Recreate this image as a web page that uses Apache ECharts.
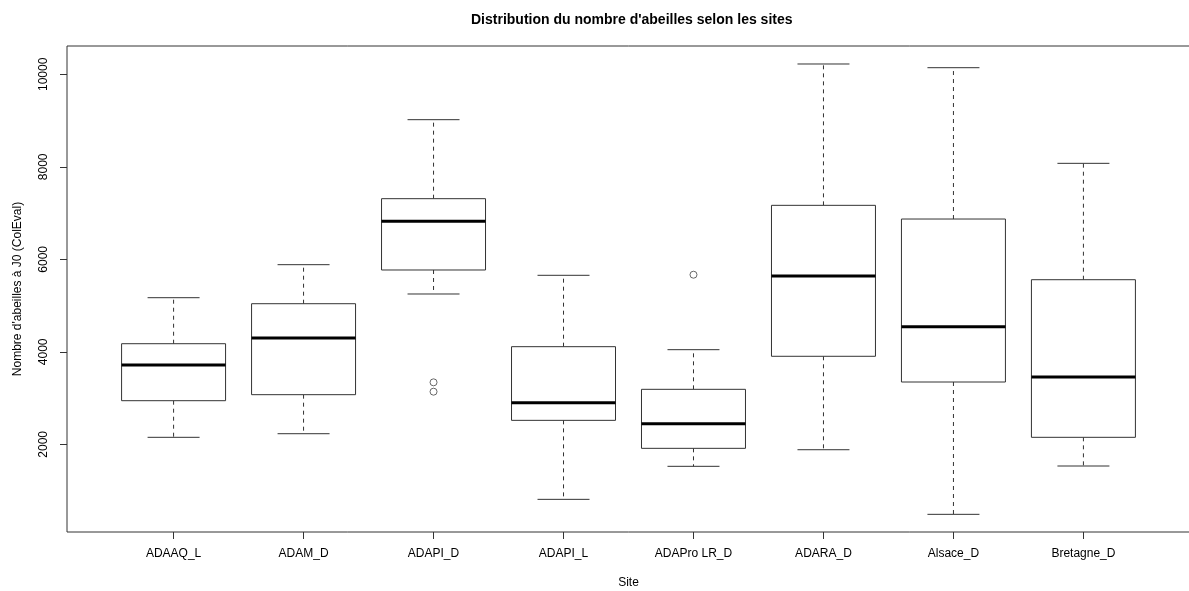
<!DOCTYPE html>
<html>
<head>
<meta charset="utf-8">
<script src="https://cdn.jsdelivr.net/npm/echarts@6/dist/echarts.min.js"></script>
<style>
html,body{margin:0;padding:0;background:#fff;}
#chart{width:1189px;height:591px;}
</style>
</head>
<body>
<div id="chart"></div>
<script>
const categories = ['ADAAQ_L','ADAM_D','ADAPI_D','ADAPI_L','ADAPro LR_D','ADARA_D','Alsace_D','Bretagne_D'];
const lowerWhisker = [2151, 2229, 5250, 810, 1524, 1883, 486, 1531];
const q1 = [2943, 3073, 5769, 2518, 1913, 3903, 3347, 2151];
const median = [3715, 4298, 6821, 2900, 2446, 5639, 4543, 3455];
const q3 = [4175, 5040, 7311, 4111, 3189, 7167, 6871, 5559];
const upperWhisker = [5170, 5884, 9019, 5654, 4046, 10223, 10143, 8075];
const outlierSite = ['ADAPI_D','ADAPI_D','ADAPro LR_D'];
const outlierValue = [3340, 3138, 5667];
const yTicks = [2000, 4000, 6000, 8000, 10000];

const FONT = "'Liberation Sans', Arial, Helvetica, sans-serif";
const positions = categories.map((c, i) => i + 1);
const boxData = categories.map((c, i) => [positions[i], lowerWhisker[i], q1[i], median[i], q3[i], upperWhisker[i]]);
const outlierData = outlierSite.map((s, i) => [categories.indexOf(s) + 1, outlierValue[i]]);

function renderBox(params, api) {
  const x = api.value(0);
  const pLow = api.coord([x, api.value(1)]);
  const pQ1 = api.coord([x, api.value(2)]);
  const pMed = api.coord([x, api.value(3)]);
  const pQ3 = api.coord([x, api.value(4)]);
  const pUp = api.coord([x, api.value(5)]);
  const cx = pLow[0];
  const halfW = api.size([0.8, 0])[0] / 2;
  const capHalf = halfW / 2;
  const lineCol = '#333';
  return {
    type: 'group',
    children: [
      { type: 'line', shape: { x1: cx, y1: pQ3[1], x2: cx, y2: pUp[1] },
        style: { stroke: lineCol, lineWidth: 1, lineDash: [4, 4] } },
      { type: 'line', shape: { x1: cx, y1: pQ1[1], x2: cx, y2: pLow[1] },
        style: { stroke: lineCol, lineWidth: 1, lineDash: [4, 4] } },
      { type: 'line', shape: { x1: cx - capHalf, y1: pUp[1], x2: cx + capHalf, y2: pUp[1] },
        style: { stroke: lineCol, lineWidth: 1 } },
      { type: 'line', shape: { x1: cx - capHalf, y1: pLow[1], x2: cx + capHalf, y2: pLow[1] },
        style: { stroke: lineCol, lineWidth: 1 } },
      { type: 'rect', shape: { x: cx - halfW, y: pQ3[1], width: halfW * 2, height: pQ1[1] - pQ3[1] },
        style: { fill: '#fff', stroke: lineCol, lineWidth: 1 } },
      { type: 'line', shape: { x1: cx - halfW, y1: pMed[1], x2: cx + halfW, y2: pMed[1] },
        style: { stroke: '#000', lineWidth: 3 } }
    ]
  };
}

const chart = echarts.init(document.getElementById('chart'), null, { renderer: 'canvas' });
chart.setOption({
  animation: false,
  backgroundColor: '#fff',
  textStyle: { fontFamily: FONT },
  title: {
    text: "Distribution du nombre d'abeilles selon les sites",
    left: 466, top: 8,
    textStyle: { fontFamily: FONT, fontSize: 14, fontWeight: 'bold', color: '#000' }
  },
  grid: {
    left: 67, top: 46, width: 1123, height: 486,
    outerBoundsMode: 'none', containLabel: false,
    show: true, borderColor: '#333', borderWidth: 1, backgroundColor: 'transparent'
  },
  xAxis: {
    type: 'value', min: 0.18, max: 8.82,
    name: 'Site', nameLocation: 'middle', nameGap: 45,
    nameTextStyle: { fontFamily: FONT, fontSize: 12, color: '#000' },
    axisLine: { show: false },
    splitLine: { show: false },
    axisTick: { show: true, inside: false, length: 7, customValues: positions, lineStyle: { color: '#333' } },
    axisLabel: {
      customValues: positions, margin: 16,
      fontFamily: FONT, fontSize: 12, color: '#000',
      formatter: v => categories[Math.round(v) - 1] || ''
    }
  },
  yAxis: {
    type: 'value', min: 104, max: 10612,
    name: "Nombre d'abeilles à J0 (ColEval)", nameLocation: 'middle', nameGap: 43, nameRotate: 90,
    nameTextStyle: { fontFamily: FONT, fontSize: 12, color: '#000' },
    axisLine: { show: false },
    splitLine: { show: false },
    axisTick: { show: true, inside: false, length: 7, customValues: yTicks, lineStyle: { color: '#333' } },
    axisLabel: {
      customValues: yTicks, rotate: 90, margin: 17,
      fontFamily: FONT, fontSize: 12, color: '#000',
      formatter: v => String(v)
    }
  },
  series: [
    { type: 'custom', data: boxData, renderItem: renderBox, clip: false,
      encode: { x: 0, y: [1, 2, 3, 4, 5] } },
    { type: 'scatter', data: outlierData, symbol: 'circle', symbolSize: 7,
      itemStyle: { color: '#fff', borderColor: '#444', borderWidth: 1 } }
  ]
});
</script>
</body>
</html>
